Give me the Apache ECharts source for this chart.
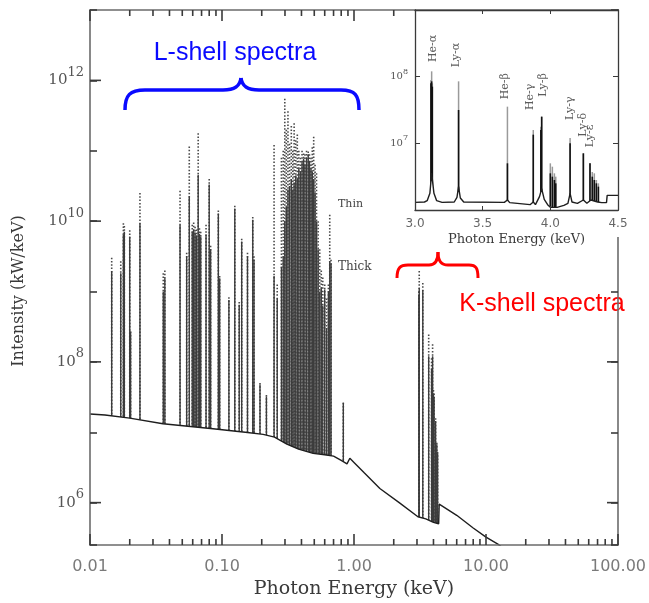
<!DOCTYPE html>
<html>
<head>
<meta charset="utf-8">
<script src="https://cdn.jsdelivr.net/npm/echarts@6/dist/echarts.min.js"></script>
<style>
  html, body { margin: 0; padding: 0; background: #fff; }
  #chart { width: 649px; height: 603px; }
</style>
</head>
<body>
<div id="chart"></div>
<script>
// ---- Emission lines of the full spectrum (energy in keV, peak intensity as log10 of kW/keV)
const lineEnergy = [
  0.0146, 0.0171, 0.0179, 0.0182, 0.0200, 0.0203, 0.0239, 0.0359, 0.0369, 0.0481,
  0.0540, 0.0565, 0.0595, 0.0610, 0.0625, 0.0640, 0.0660, 0.0675, 0.0690, 0.0757,
  0.0800, 0.0820, 0.0938, 0.0960, 0.1128, 0.1250, 0.1350, 0.1410, 0.1560, 0.1710,
  0.1747, 0.1940, 0.2170, 0.2480, 0.2620, 0.2820, 0.2910, 0.2990, 0.3070, 0.3160,
  0.3250, 0.3350, 0.3440, 0.3520, 0.3620, 0.3720, 0.3820, 0.3930, 0.4040, 0.4150,
  0.4250, 0.4370, 0.4500, 0.4600, 0.4720, 0.4830, 0.4950, 0.5070, 0.5200, 0.5350,
  0.5500, 0.5650, 0.5800, 0.6000, 0.6200, 0.6400, 0.6550, 0.6700, 0.8300,
  3.10, 3.12, 3.32, 3.68, 3.87, 3.94, 4.00, 4.04, 4.15, 4.24, 4.30
];
// thick plasma (solid lines)
const thickPeakExp = [
  9.29, 9.26, 9.81, 9.85, 9.78, 8.43, 9.97, 9.00, 9.19, 9.95,
  9.50, 10.35, 9.85, 9.88, 9.84, 9.80, 10.66, 9.82, 9.78, 9.81,
  10.52, 9.60, 10.11, 9.19, 8.88, 10.18, 8.81, 9.71, 9.50, 10.02,
  9.45, 7.68, 7.51, 9.22, 8.90, 9.35, 9.50, 10.00, 10.20, 10.45,
  10.50, 10.60, 10.45, 10.55, 10.65, 10.60, 10.75, 10.70, 10.85, 10.89,
  10.80, 10.90, 10.95, 10.85, 10.75, 10.70, 10.60, 10.40, 10.00, 9.60,
  9.00, 9.05, 8.80, 9.03, 8.48, 9.00, 9.43, 9.40, 7.42,
  8.95, 9.05, 9.02, 8.08, 7.90, 8.08, 7.54, 7.50, 7.16, 6.83, 6.70
];
// thin plasma (dotted lines)
const thinPeakExp = [
  9.48, 9.43, 9.97, 9.93, 9.87, 8.43, 10.40, 9.26, 9.30, 10.43,
  9.55, 11.06, 9.95, 9.98, 9.92, 9.88, 11.25, 9.90, 9.85, 9.95,
  10.60, 9.65, 10.15, 9.22, 8.92, 10.22, 8.85, 9.75, 9.55, 10.06,
  9.50, 7.70, 7.53, 11.08, 9.10, 10.90, 11.00, 11.74, 11.30, 11.56,
  11.10, 11.35, 11.00, 11.39, 11.15, 11.23, 11.00, 10.90, 11.00, 10.96,
  10.95, 11.00, 10.99, 10.95, 10.90, 11.05, 11.20, 10.80, 10.68, 10.00,
  9.60, 9.30, 9.20, 9.10, 8.90, 9.10, 10.09, 9.45, 7.42,
  9.00, 9.29, 9.12, 8.39, 8.05, 8.25, 7.60, 7.55, 7.20, 6.85, 6.72
];

// ---- Continuum of the full spectrum
const continuumEnergy = [
  0.01, 0.013, 0.02, 0.0357, 0.0855, 0.15, 0.205, 0.25, 0.31, 0.38,
  0.49, 0.6, 0.7, 0.8, 0.885, 0.93, 1.0, 1.2, 1.57, 2.2,
  3.05, 3.5, 4.0, 4.38, 4.42, 6.0, 8.0, 10.0, 12.3, 14.0
];
const continuumExp = [
  7.26, 7.245, 7.20, 7.12, 7.05, 7.00, 6.97, 6.93, 6.83, 6.76,
  6.70, 6.68, 6.66, 6.60, 6.55, 6.63, 6.57, 6.42, 6.20, 6.00,
  5.80, 5.77, 5.72, 5.70, 5.98, 5.82, 5.64, 5.51, 5.41, 5.33
];

// ---- K-shell detail (inset)
const insetLineEnergy = [3.118, 3.123, 3.128, 3.322, 3.683, 3.874, 3.930, 3.936, 4.000, 4.015,
                         4.030, 4.040, 4.146, 4.244, 4.293, 4.310, 4.325, 4.340, 4.355];
const insetCorePeakExp = [7.90, 7.93, 7.85, 7.50, 6.70, 7.13, 7.20, 7.40, 6.55, 6.50,
                          6.45, 6.40, 7.00, 6.85, 6.70, 6.50, 6.45, 6.40, 6.35];
const insetFullPeakExp = [7.95, 8.08, 7.90, 7.93, 7.55, 7.20, 7.25, 7.40, 6.70, 6.65,
                          6.55, 6.50, 7.08, 6.85, 6.70, 6.57, 6.55, 6.45, 6.40];
const insetContinuumEnergy = [
  3.00, 3.07, 3.09, 3.11, 3.123, 3.14, 3.16, 3.20, 3.29, 3.31,
  3.322, 3.335, 3.36, 3.66, 3.683, 3.70, 3.85, 3.874, 3.89, 3.92,
  3.936, 3.955, 3.98, 4.00, 4.05, 4.10, 4.13, 4.146, 4.16, 4.20,
  4.244, 4.27, 4.30, 4.35, 4.38, 4.415, 4.42, 4.50
];
const insetContinuumExp = [
  6.115, 6.12, 6.14, 6.25, 6.55, 6.25, 6.14, 6.115, 6.12, 6.19,
  6.35, 6.18, 6.12, 6.115, 6.15, 6.11, 6.08, 6.12, 6.08, 6.20,
  6.32, 6.16, 6.08, 6.04, 6.04, 6.07, 6.10, 6.25, 6.12, 6.10,
  6.15, 6.10, 6.15, 6.12, 6.11, 6.11, 6.22, 6.22
];
const insetLabelText = ['He-α', 'Ly-α', 'He-β', 'He-γ', 'Ly-β', 'Ly-γ', 'Ly-δ', 'Ly-ε'];
const insetLabelEnergy = [3.133, 3.303, 3.665, 3.850, 3.946, 4.146, 4.240, 4.293];
const insetLabelExp = [8.22, 8.14, 7.66, 7.50, 7.70, 7.35, 7.10, 6.94];

// ---- Axis ranges and tick positions
const xMin = 0.01, xMax = 100;
const yMin = 2.5e5, yMax = 1e13;
const xDecades = [0.01, 0.1, 1, 10];
const minorMultipliers = [2, 3, 4, 5, 6, 7, 8, 9];
const labelledYExps = [6, 8, 10, 12];
const insetLabelledExps = [7, 8];

const pow10 = v => Math.pow(10, v);
const minorTickEnergies = [];
xDecades.forEach(d => minorMultipliers.forEach(m => minorTickEnergies.push(d * m)));

const thickData = lineEnergy.map((e, i) => [e, pow10(thickPeakExp[i])]);
const thinData = lineEnergy.map((e, i) => [e, pow10(thinPeakExp[i])]);
const continuumData = continuumEnergy.map((e, i) => [e, pow10(continuumExp[i])]);
const insetCoreData = insetLineEnergy.map((e, i) => [e, pow10(insetCorePeakExp[i])]);
const insetFullData = insetLineEnergy.map((e, i) => [e, pow10(insetFullPeakExp[i])]);
const insetContinuumData = insetContinuumEnergy.map((e, i) => [e, pow10(insetContinuumExp[i])]);
const insetLabelData = insetLabelEnergy.map((e, i) => [e, pow10(insetLabelExp[i]), insetLabelText[i]]);
const minorTickData = minorTickEnergies.map(e => [e, 1e9]);
const decadeTickData = labelledYExps.map(e => [1, pow10(e)]);

const tickGray = '#3a3a3a';
const axisGray = '#6b6b6b';

// vertical emission line from the peak down to the bottom of its grid
function spike(style) {
  return function (params, api) {
    const top = api.coord([api.value(0), api.value(1)]);
    const cs = params.coordSys;
    return {
      type: 'line',
      shape: { x1: top[0], y1: top[1], x2: top[0], y2: cs.y + cs.height },
      style: Object.assign({}, style)
    };
  };
}
// short inward tick on the bottom (atTop = false) or top frame at an energy
function energyTick(atTop, len) {
  return function (params, api) {
    const x = api.coord([api.value(0), api.value(1)])[0];
    const cs = params.coordSys;
    const y0 = atTop ? cs.y : cs.y + cs.height;
    const y1 = atTop ? cs.y + len : cs.y + cs.height - len;
    return { type: 'line', shape: { x1: x, y1: y0, x2: x, y2: y1 },
             style: { stroke: tickGray, lineWidth: 1.6 } };
  };
}
// inward tick on the left (atRight = false) or right frame at an intensity
function intensityTick(atRight, len) {
  return function (params, api) {
    const y = api.coord([api.value(0), api.value(1)])[1];
    const cs = params.coordSys;
    const x0 = atRight ? cs.x + cs.width : cs.x;
    const x1 = atRight ? cs.x + cs.width - len : cs.x + len;
    return { type: 'line', shape: { x1: x0, y1: y, x2: x1, y2: y },
             style: { stroke: tickGray, lineWidth: 1.6 } };
  };
}

const serif = 'DejaVu Serif';
const sans = 'DejaVu Sans';
const powRich = {
  b: { fontFamily: serif, fontSize: 15, color: '#555' },
  s: { fontFamily: serif, fontSize: 13, color: '#555', verticalAlign: 'bottom', padding: [0, 0, 16, 0] }
};
const insetPowRich = {
  b: { fontFamily: serif, fontSize: 10, color: '#555' },
  s: { fontFamily: serif, fontSize: 8, color: '#555', verticalAlign: 'bottom', padding: [0, 0, 10, 0] }
};
const noSplit = { show: false };

function tickSeries(name, renderItem, data) {
  return { name, type: 'custom', xAxisIndex: 0, yAxisIndex: 0, z: 11, renderItem, data };
}

const chart = echarts.init(document.getElementById('chart'), null, { renderer: 'canvas' });

chart.setOption({
  animation: false,
  backgroundColor: '#fff',
  textStyle: { fontFamily: sans },
  grid: [
    { left: 90, top: 10, width: 528, height: 535, outerBoundsMode: 'none', containLabel: false },
    { left: 415, top: 10, width: 203, height: 200, outerBoundsMode: 'none', containLabel: false,
      show: true, backgroundColor: '#fff', borderWidth: 0, z: 12 }
  ],
  xAxis: [
    { // 0: main energy axis
      type: 'log', gridIndex: 0, position: 'bottom', min: xMin, max: xMax, z: 10,
      axisLine: { lineStyle: { color: axisGray, width: 1.6 } },
      axisTick: { inside: true, length: 11, lineStyle: { color: tickGray, width: 1.6 } },
      axisLabel: { formatter: v => v.toFixed(2), color: '#7a7a7a', fontFamily: sans, fontSize: 16, margin: 14 },
      splitLine: noSplit,
      name: 'Photon Energy (keV)', nameLocation: 'middle', nameGap: 32,
      nameTextStyle: { fontFamily: serif, fontSize: 19, color: '#3a3a3a' }
    },
    { // 1: main top frame
      type: 'log', gridIndex: 0, position: 'top', min: xMin, max: xMax, z: 10,
      axisLine: { lineStyle: { color: axisGray, width: 1.6 } },
      axisTick: { inside: true, length: 11, lineStyle: { color: tickGray, width: 1.6 } },
      axisLabel: { show: false }, splitLine: noSplit
    },
    { // 2: inset energy axis
      type: 'value', gridIndex: 1, position: 'bottom', min: 3.0, max: 4.5, interval: 0.5, z: 20,
      axisLine: { onZero: false, lineStyle: { color: tickGray, width: 1.3 } },
      axisTick: { inside: true, length: 4, lineStyle: { color: tickGray } },
      axisLabel: { formatter: v => v.toFixed(1), color: '#666', fontFamily: sans, fontSize: 12, margin: 8 },
      splitLine: noSplit,
      name: 'Photon Energy (keV)', nameLocation: 'middle', nameGap: 23,
      nameTextStyle: { fontFamily: serif, fontSize: 13, color: '#3a3a3a' }
    },
    { // 3: inset top frame
      type: 'value', gridIndex: 1, position: 'top', min: 3.0, max: 4.5, interval: 0.5, z: 20,
      axisLine: { onZero: false, lineStyle: { color: tickGray, width: 1.3 } },
      axisTick: { inside: true, length: 4, lineStyle: { color: tickGray } },
      axisLabel: { show: false }, splitLine: noSplit
    }
  ],
  yAxis: [
    { // 0: main intensity axis
      type: 'log', gridIndex: 0, position: 'left', min: yMin, max: yMax, z: 10,
      axisLine: { lineStyle: { color: axisGray, width: 1.6 } },
      axisTick: { inside: true, length: 7, lineStyle: { color: tickGray, width: 1.6 } },
      axisLabel: {
        margin: 6, rich: powRich,
        formatter: v => {
          const e = Math.round(Math.log10(v));
          return labelledYExps.includes(e) ? '{b|10}{s|' + e + '}' : '';
        }
      },
      splitLine: noSplit
    },
    { // 1: main right frame
      type: 'log', gridIndex: 0, position: 'right', min: yMin, max: yMax, z: 10,
      axisLine: { lineStyle: { color: axisGray, width: 1.6 } },
      axisTick: { inside: true, length: 7, lineStyle: { color: tickGray, width: 1.6 } },
      axisLabel: { show: false }, splitLine: noSplit
    },
    { // 2: inset intensity axis
      type: 'log', gridIndex: 1, position: 'left', min: 1e6, max: 1e9, z: 20,
      axisLine: { onZero: false, lineStyle: { color: tickGray, width: 1.3 } },
      axisTick: { inside: true, length: 5, lineStyle: { color: tickGray } },
      axisLabel: {
        margin: 7, rich: insetPowRich,
        formatter: v => {
          const e = Math.round(Math.log10(v));
          return insetLabelledExps.includes(e) ? '{b|10}{s|' + e + '}' : '';
        }
      },
      splitLine: noSplit
    },
    { // 3: inset right frame
      type: 'log', gridIndex: 1, position: 'right', min: 1e6, max: 1e9, z: 20,
      axisLine: { onZero: false, lineStyle: { color: tickGray, width: 1.3 } },
      axisTick: { inside: true, length: 5, lineStyle: { color: tickGray } },
      axisLabel: { show: false }, splitLine: noSplit
    }
  ],
  series: [
    { name: 'Thin', type: 'custom', xAxisIndex: 0, yAxisIndex: 0, z: 2, silent: true,
      renderItem: spike({ stroke: '#4a4a4a', lineWidth: 1.6, lineDash: [1.5, 1.8] }), data: thinData },
    { name: 'Thick', type: 'custom', xAxisIndex: 0, yAxisIndex: 0, z: 3, silent: true,
      renderItem: spike({ stroke: '#3c3c3c', lineWidth: 1.4 }), data: thickData },
    { name: 'Continuum', type: 'line', xAxisIndex: 0, yAxisIndex: 0, z: 4, silent: true,
      symbol: 'none', data: continuumData,
      lineStyle: { color: '#1e1e1e', width: 1.4 },
      areaStyle: { color: '#fff', opacity: 1, origin: 'start' } },
    tickSeries('Minor ticks bottom', energyTick(false, 6), minorTickData),
    tickSeries('Minor ticks top', energyTick(true, 6), minorTickData),
    tickSeries('Decade ticks left', intensityTick(false, 11), decadeTickData),
    tickSeries('Decade ticks right', intensityTick(true, 11), decadeTickData),

    { name: 'K-shell full', type: 'custom', xAxisIndex: 2, yAxisIndex: 2, z: 13, silent: true,
      renderItem: spike({ stroke: '#9a9a9a', lineWidth: 1.5 }), data: insetFullData },
    { name: 'K-shell core', type: 'custom', xAxisIndex: 2, yAxisIndex: 2, z: 14, silent: true,
      renderItem: spike({ stroke: '#111', lineWidth: 1.6 }), data: insetCoreData },
    { name: 'K-shell continuum', type: 'line', xAxisIndex: 2, yAxisIndex: 2, z: 15, silent: true,
      symbol: 'none', data: insetContinuumData,
      lineStyle: { color: '#1e1e1e', width: 1.4 },
      areaStyle: { color: '#fff', opacity: 1, origin: 'start' } },
    { name: 'Line names', type: 'scatter', xAxisIndex: 2, yAxisIndex: 2, z: 16, silent: true,
      symbolSize: 0, data: insetLabelData,
      label: {
        show: true, position: [0, 0], rotate: 90, align: 'left', verticalAlign: 'middle',
        formatter: p => p.value[2], fontFamily: serif, fontSize: 11, color: '#333'
      } }
  ],
  graphic: [
    // clear strip behind the inset's tick labels
    { type: 'rect', z: 12, shape: { x: 600, y: 211, width: 30, height: 26 }, style: { fill: '#fff' } },
    { type: 'text', x: 19, y: 291, rotation: Math.PI / 2,
      style: { text: 'Intensity (kW/keV)', fontFamily: serif, fontSize: 16, fill: '#3a3a3a',
               align: 'center', verticalAlign: 'middle' } },
    { type: 'text', x: 338, y: 204,
      style: { text: 'Thin', fontFamily: serif, fontSize: 11, fill: '#444', verticalAlign: 'middle' } },
    { type: 'text', x: 338, y: 267,
      style: { text: 'Thick', fontFamily: serif, fontSize: 12, fill: '#444', verticalAlign: 'middle' } },

    // L-shell brace and caption
    { type: 'group', children: [
      { type: 'bezierCurve', shape: { x1: 125, y1: 110, cpx1: 125, cpy1: 95, cpx2: 130, cpy2: 90, x2: 145, y2: 90 },
        style: { stroke: '#0a0aff', lineWidth: 3.5, fill: null } },
      { type: 'line', shape: { x1: 145, y1: 90, x2: 223, y2: 90 }, style: { stroke: '#0a0aff', lineWidth: 3.5 } },
      { type: 'bezierCurve', shape: { x1: 223, y1: 90, cpx1: 235, cpy1: 90, cpx2: 240, cpy2: 86, x2: 241, y2: 78 },
        style: { stroke: '#0a0aff', lineWidth: 3.5, fill: null } },
      { type: 'bezierCurve', shape: { x1: 241, y1: 78, cpx1: 242, cpy1: 86, cpx2: 247, cpy2: 90, x2: 259, y2: 90 },
        style: { stroke: '#0a0aff', lineWidth: 3.5, fill: null } },
      { type: 'line', shape: { x1: 259, y1: 90, x2: 341, y2: 90 }, style: { stroke: '#0a0aff', lineWidth: 3.5 } },
      { type: 'bezierCurve', shape: { x1: 341, y1: 90, cpx1: 355, cpy1: 90, cpx2: 359, cpy2: 95, x2: 359, y2: 110 },
        style: { stroke: '#0a0aff', lineWidth: 3.5, fill: null } }
    ] },
    { type: 'text', x: 235, y: 53,
      style: { text: 'L-shell spectra', fontFamily: 'Liberation Sans', fontSize: 25, fill: '#0a0aff',
               align: 'center', verticalAlign: 'middle' } },

    // K-shell brace and caption
    { type: 'group', children: [
      { type: 'bezierCurve', shape: { x1: 397, y1: 278, cpx1: 397, cpy1: 268, cpx2: 400, cpy2: 265, x2: 408, y2: 265 },
        style: { stroke: '#ff0000', lineWidth: 3, fill: null } },
      { type: 'line', shape: { x1: 408, y1: 265, x2: 429, y2: 265 }, style: { stroke: '#ff0000', lineWidth: 3 } },
      { type: 'bezierCurve', shape: { x1: 429, y1: 265, cpx1: 435, cpy1: 265, cpx2: 438, cpy2: 261, x2: 438, y2: 252 },
        style: { stroke: '#ff0000', lineWidth: 3, fill: null } },
      { type: 'bezierCurve', shape: { x1: 438, y1: 252, cpx1: 438, cpy1: 261, cpx2: 441, cpy2: 265, x2: 448, y2: 265 },
        style: { stroke: '#ff0000', lineWidth: 3, fill: null } },
      { type: 'line', shape: { x1: 448, y1: 265, x2: 469, y2: 265 }, style: { stroke: '#ff0000', lineWidth: 3 } },
      { type: 'bezierCurve', shape: { x1: 469, y1: 265, cpx1: 476, cpy1: 265, cpx2: 478, cpy2: 268, x2: 478, y2: 278 },
        style: { stroke: '#ff0000', lineWidth: 3, fill: null } }
    ] },
    { type: 'text', x: 542, y: 304,
      style: { text: 'K-shell spectra', fontFamily: 'Liberation Sans', fontSize: 25, fill: '#ff0000',
               align: 'center', verticalAlign: 'middle' } }
  ]
});
</script>
</body>
</html>
